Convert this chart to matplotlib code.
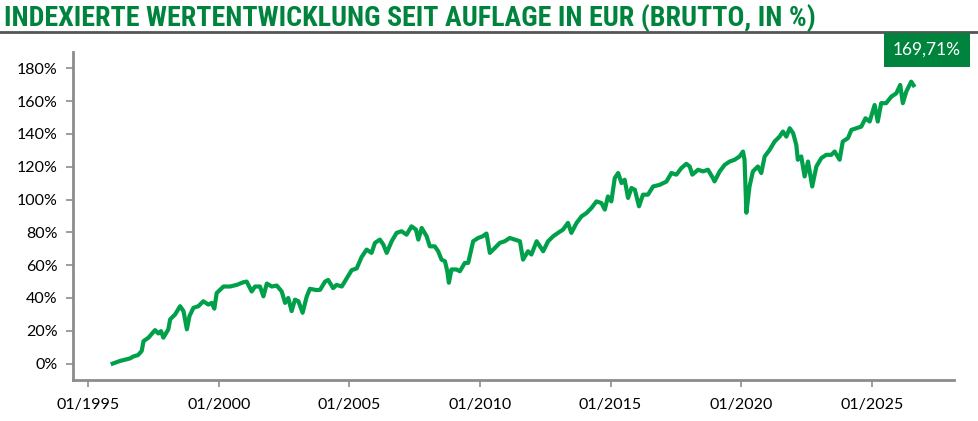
import matplotlib.pyplot as plt
from matplotlib.ticker import FuncFormatter

# Indexed performance since launch (decimal year, % gross)
years = [1995.94, 1996.22, 1996.61, 1996.72, 1996.91, 1997.05, 1997.12, 1997.31, 1997.56, 1997.69,
         1997.79, 1997.88, 1998.07, 1998.14, 1998.33, 1998.52, 1998.65, 1998.78, 1998.88, 1999.03,
         1999.22, 1999.41, 1999.60, 1999.73, 1999.83, 1999.92, 2000.18, 2000.43, 2000.69, 2000.94,
         2001.07, 2001.26, 2001.39, 2001.58, 2001.71, 2001.84, 2002.03, 2002.22, 2002.41, 2002.54,
         2002.66, 2002.79, 2002.92, 2003.05, 2003.21, 2003.37, 2003.49, 2003.75, 2003.88, 2004.07,
         2004.19, 2004.38, 2004.51, 2004.71, 2004.90, 2005.09, 2005.28, 2005.47, 2005.66, 2005.85,
         2005.98, 2006.17, 2006.30, 2006.43, 2006.62, 2006.81, 2007.00, 2007.19, 2007.38, 2007.55,
         2007.64, 2007.77, 2007.96, 2008.08, 2008.27, 2008.40, 2008.53, 2008.66, 2008.75, 2008.81,
         2008.91, 2009.10, 2009.23, 2009.42, 2009.55, 2009.74, 2009.93, 2010.10, 2010.25, 2010.38,
         2010.57, 2010.76, 2010.95, 2011.14, 2011.34, 2011.53, 2011.65, 2011.84, 2011.97, 2012.17,
         2012.42, 2012.61, 2012.80, 2012.99, 2013.18, 2013.37, 2013.50, 2013.70, 2013.89, 2014.08,
         2014.27, 2014.46, 2014.65, 2014.78, 2014.90, 2015.03, 2015.16, 2015.29, 2015.42, 2015.54,
         2015.67, 2015.80, 2015.93, 2016.09, 2016.24, 2016.43, 2016.63, 2016.88, 2017.14, 2017.33,
         2017.52, 2017.71, 2017.90, 2018.03, 2018.13, 2018.35, 2018.54, 2018.73, 2018.92, 2018.98,
         2019.18, 2019.37, 2019.56, 2019.75, 2019.94, 2020.07, 2020.13, 2020.20, 2020.32, 2020.45,
         2020.64, 2020.77, 2020.90, 2021.09, 2021.28, 2021.47, 2021.60, 2021.73, 2021.86, 2021.99,
         2022.11, 2022.17, 2022.30, 2022.43, 2022.56, 2022.72, 2022.88, 2023.07, 2023.26, 2023.45,
         2023.58, 2023.77, 2023.89, 2024.09, 2024.22, 2024.41, 2024.60, 2024.76, 2024.92, 2025.11,
         2025.23, 2025.36, 2025.55, 2025.75, 2025.94, 2026.09, 2026.19, 2026.32, 2026.51, 2026.60]
perf = [0.0, 1.6, 3.2, 4.3, 5.2, 7.7, 13.7, 15.8, 20.4, 18.4,
        19.8, 15.8, 20.9, 27.0, 30.0, 35.0, 32.0, 20.9, 29.0, 34.0,
        35.0, 38.0, 36.0, 37.0, 33.5, 43.0, 47.0, 47.0, 48.0, 49.6,
        50.0, 44.0, 47.0, 47.0, 41.0, 48.8, 47.0, 47.6, 44.0, 37.0,
        40.0, 32.0, 39.0, 38.0, 31.0, 41.0, 45.6, 44.8, 45.0, 50.0,
        51.0, 46.0, 48.0, 47.0, 52.0, 57.0, 58.0, 65.0, 69.5, 67.5,
        73.6, 75.6, 72.6, 67.5, 74.6, 79.7, 80.7, 78.6, 83.7, 81.7,
        75.6, 82.7, 77.6, 71.5, 71.5, 68.5, 63.4, 62.4, 56.3, 49.3,
        57.4, 57.4, 56.3, 61.4, 61.4, 74.6, 76.6, 77.6, 79.3, 67.5,
        70.5, 73.6, 74.6, 76.6, 75.6, 74.6, 63.4, 68.5, 66.5, 74.6,
        68.5, 74.6, 77.6, 79.7, 81.7, 85.8, 79.7, 85.8, 89.8, 91.8,
        94.9, 98.9, 97.9, 93.9, 101.9, 98.9, 113.1, 116.2, 110.1, 112.1,
        101.0, 107.1, 106.0, 95.9, 103.0, 103.0, 108.0, 109.0, 111.0, 116.2,
        115.2, 119.2, 121.8, 120.2, 115.2, 118.2, 117.2, 118.2, 113.1, 111.1,
        117.2, 121.2, 123.2, 124.3, 126.3, 129.3, 124.3, 92.0, 108.0, 117.2,
        120.2, 116.2, 126.3, 130.3, 135.4, 138.4, 141.5, 138.4, 143.5, 140.5,
        133.4, 124.3, 126.3, 114.1, 123.2, 108.0, 120.2, 125.3, 127.3, 127.3,
        129.3, 124.3, 135.4, 137.5, 142.5, 143.5, 144.5, 149.6, 147.6, 157.7,
        147.6, 158.8, 158.8, 162.8, 164.8, 169.9, 158.8, 165.8, 171.9, 169.71]

tick_years = [1995, 2000, 2005, 2010, 2015, 2020, 2025]
tick_labels = ['01/1995', '01/2000', '01/2005', '01/2010', '01/2015', '01/2020', '01/2025']
y_ticks = [0, 20, 40, 60, 80, 100, 120, 140, 160, 180]
last_label = '169,71%'
title = 'INDEXIERTE WERTENTWICKLUNG SEIT AUFLAGE IN EUR (BRUTTO, IN %)'

green_line = '#00A04B'
green_dark = '#00843D'
axis_grey = '#8C8C8C'

plt.rcParams['font.family'] = ['Lato', 'DejaVu Sans']

fig = plt.figure(figsize=(9.79, 4.21), dpi=100)
ax = fig.add_axes([0.0743, 0.0974, 0.9002, 0.7791])

ax.plot(years, perf, color=green_line, lw=3, solid_joinstyle='round')

ax.set_xlim(1994.41, 2028.15)
ax.set_ylim(-10, 190)
ax.set_xticks(tick_years)
ax.set_xticklabels(tick_labels)
ax.set_yticks(y_ticks)
ax.yaxis.set_major_formatter(FuncFormatter(lambda v, p: '{:.0f}%'.format(v)))

for s in ['top', 'right']:
    ax.spines[s].set_visible(False)
for s in ['left', 'bottom']:
    ax.spines[s].set_color(axis_grey)
    ax.spines[s].set_linewidth(2)
ax.tick_params(axis='both', colors=axis_grey, length=5, width=1.2, labelcolor='black', labelsize=11.5)
ax.tick_params(axis='x', pad=8)
ax.tick_params(axis='y', pad=6)

# title and rule
fig.text(0.004, 0.958, title, color=green_dark, fontsize=20.2, fontweight='bold',
         family=['Liberation Sans Narrow', 'Roboto Condensed', 'DejaVu Sans'], va='center', ha='left')
fig.add_artist(plt.Line2D([0, 1], [0.924, 0.924], color='#555555', lw=2, transform=fig.transFigure))

# value badge
fig.text(0.947, 0.881, last_label, color='white', fontsize=12.5, ha='center', va='center',
         bbox=dict(boxstyle='square,pad=0.5', fc=green_dark, ec='none'))

fig.savefig('out.png', dpi=100)
